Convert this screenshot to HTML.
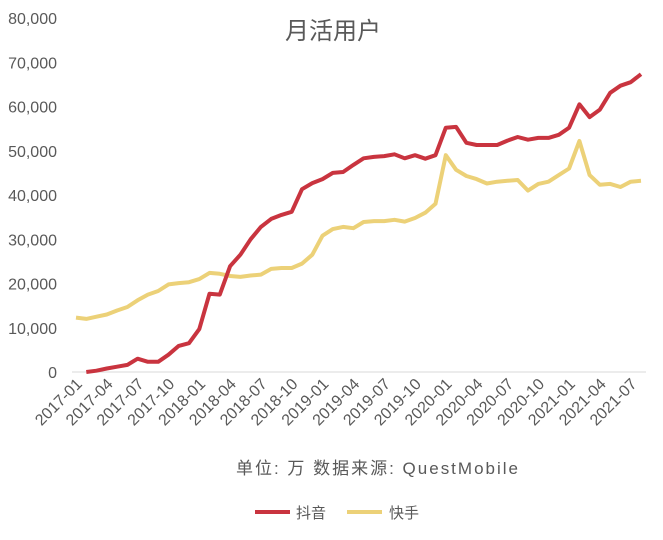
<!DOCTYPE html>
<html><head><meta charset="utf-8"><style>
body{margin:0;background:#fff;}
svg text{font-family:"Liberation Sans","Noto Sans CJK SC",sans-serif;fill:#595959;}
</style></head><body>
<svg width="663" height="535" viewBox="0 0 663 535">
<text x="333" y="39" text-anchor="middle" font-size="24">月活用户</text>
<g id="yaxis"></g>
<g id="xaxis"></g>
<line x1="72" y1="372" x2="646" y2="372" stroke="#d9d9d9" stroke-width="1"/>
<g id="series"></g>
<text x="236" y="474" font-size="17" textLength="282" lengthAdjust="spacing">单位:  万  数据来源:  QuestMobile</text>
<g>
<g><line x1="255" y1="512" x2="290" y2="512" stroke="#c9343f" stroke-width="4"/><text x="296" y="518" font-size="15">抖音</text></g>
<g><line x1="347" y1="512" x2="382" y2="512" stroke="#ecd178" stroke-width="4"/><text x="389" y="518" font-size="15">快手</text></g>
</g>
</svg>
<script>
const yTicks=[0,10000,20000,30000,40000,50000,60000,70000,80000];
const xLabels=["2017-01","2017-04","2017-07","2017-10","2018-01","2018-04","2018-07","2018-10","2019-01","2019-04","2019-07","2019-10","2020-01","2020-04","2020-07","2020-10","2021-01","2021-04","2021-07"];
const douyin=[null,0,300,800,1200,1600,3000,2300,2300,3900,5900,6500,9700,17700,17500,23900,26500,30000,32800,34600,35500,36200,41300,42700,43600,45000,45200,46800,48300,48600,48800,49200,48300,49000,48200,49000,55200,55400,51800,51300,51300,51300,52300,53100,52500,52900,52900,53600,55200,60500,57600,59300,63100,64700,65500,67300];
const kuaishou=[12300,12000,12500,13000,13900,14700,16200,17500,18300,19800,20100,20300,21000,22400,22200,21700,21500,21800,22000,23300,23500,23500,24500,26500,30800,32300,32800,32500,33900,34100,34100,34400,34000,34800,36000,38000,49000,45700,44300,43600,42600,43000,43200,43400,41000,42500,43000,44500,46000,52200,44500,42300,42500,41800,43000,43200];
const NS="http://www.w3.org/2000/svg";
const x0=76,x1=641,y0=372,y1=18,n=kuaishou.length;
const xs=i=>x0+i*(x1-x0)/(n-1);
const ys=v=>y0-(v/80000)*(y0-y1);
const ya=document.getElementById('yaxis');
yTicks.forEach(v=>{const t=document.createElementNS(NS,'text');


t.setAttribute('x',57);t.setAttribute('y',ys(v)+6);t.setAttribute('text-anchor','end');t.setAttribute('font-size','16');
t.textContent=v.toLocaleString('en-US');ya.appendChild(t);});
const xa=document.getElementById('xaxis');
xLabels.forEach((l,k)=>{const x=xs(k*3)+7,y=385;const t=document.createElementNS(NS,'text');


t.setAttribute('x',x);t.setAttribute('y',y);t.setAttribute('text-anchor','end');t.setAttribute('font-size','16');
t.setAttribute('transform','rotate(-45 '+x+' '+y+')');t.textContent=l;xa.appendChild(t);});
const sg=document.getElementById('series');
function draw(arr,color,name){let d='';arr.forEach((v,i)=>{if(v===null)return;d+=(d?'L':'M')+xs(i).toFixed(1)+','+ys(v).toFixed(1);});
const p=document.createElementNS(NS,'path');


p.setAttribute('d',d);p.setAttribute('fill','none');p.setAttribute('stroke',color);p.setAttribute('stroke-width','4');p.setAttribute('stroke-linejoin','round');
sg.appendChild(p);}
draw(kuaishou,'#ecd178','kuaishou-line');
draw(douyin,'#c9343f','douyin-line');
</script>
</body></html>
